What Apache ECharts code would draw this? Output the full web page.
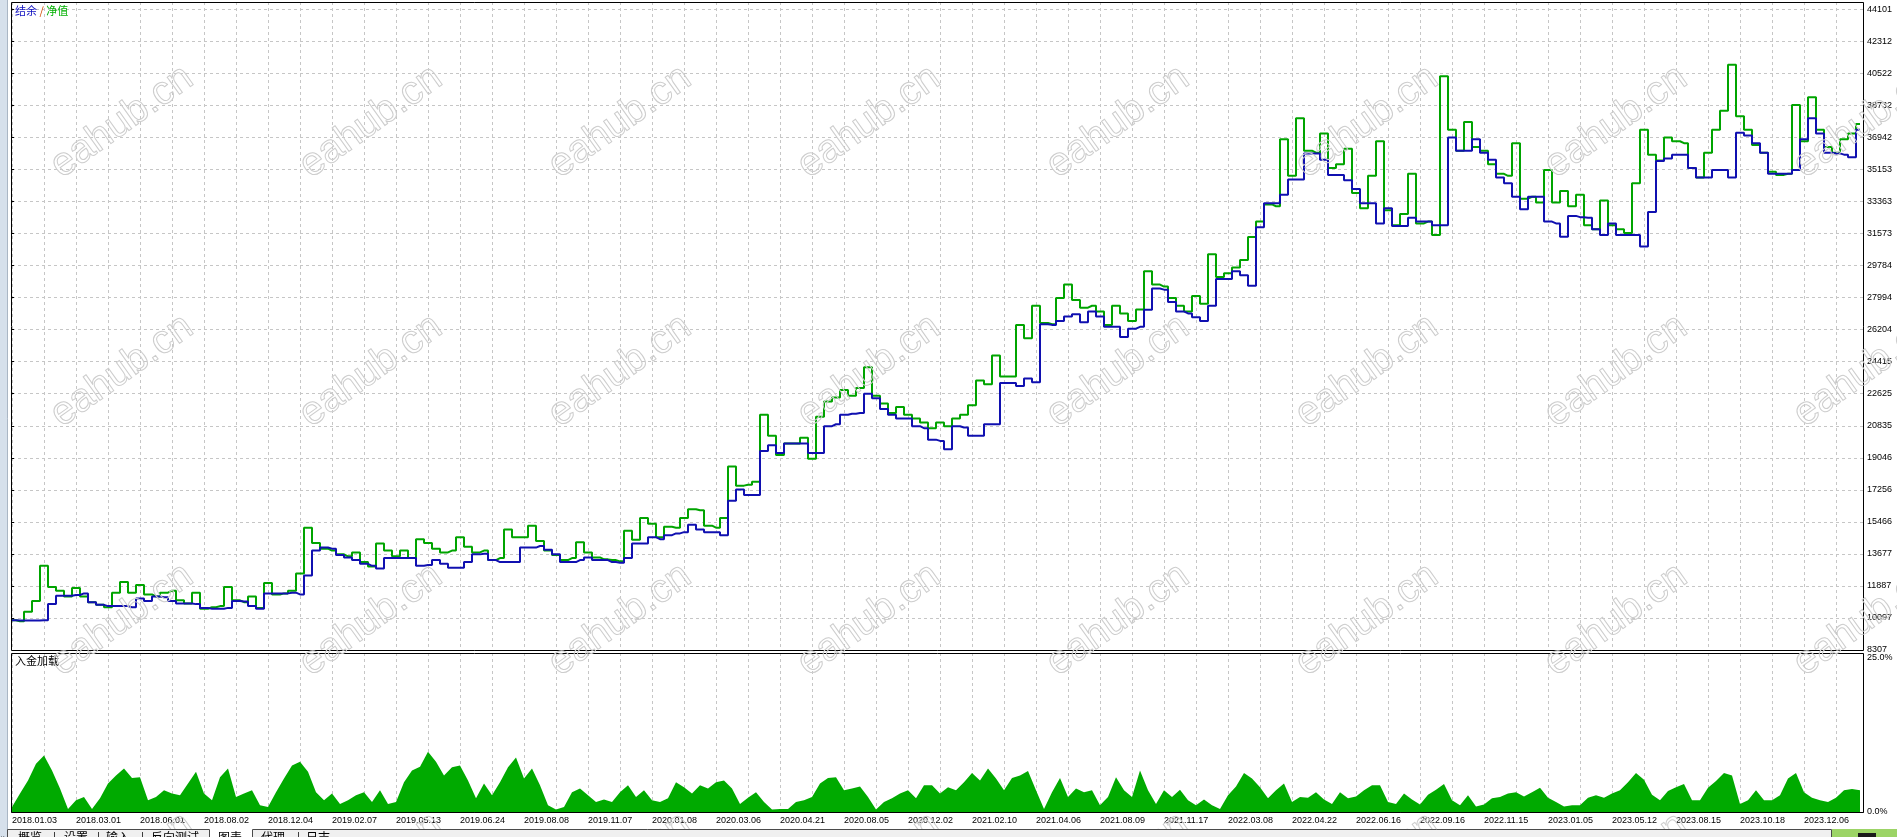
<!DOCTYPE html>
<html><head><meta charset="utf-8">
<script src="https://cdn.jsdelivr.net/npm/echarts@6/dist/echarts.min.js"></script>
<style>html,body{margin:0;padding:0;background:#fff;}#c{width:1897px;height:837px;}</style>
</head><body><div id="c"></div>
<script>
// ---- data ----
const DEALS_PER_SAMPLE = 4;
const dateLabels = ['2018.01.03','2018.03.01','2018.06.01','2018.08.02','2018.12.04','2019.02.07','2019.05.13','2019.06.24','2019.08.08','2019.11.07','2020.01.08','2020.03.06','2020.04.21','2020.08.05','2020.12.02','2021.02.10','2021.04.06','2021.08.09','2021.11.17','2022.03.08','2022.04.22','2022.06.16','2022.09.16','2022.11.15','2023.01.05','2023.05.12','2023.08.15','2023.10.18','2023.12.06'];
const yLabels = ['8307','10097','11887','13677','15466','17256','19046','20835','22625','24415','26204','27994','29784','31573','33363','35153','36942','38732','40522','42312','44101'];
const loadLabels = ['0.0%','25.0%'];
const balance = [
9970,9950,9950,9950,9970, 10870,11340,11340,11380,11470,
10980,10830,10760,10760,10760, 10700,11190,11040,11300,11260,
11040,10910,10910,10870,10660, 10610,10610,10660,11040,11020,
10760,10610,11470,11470,11470, 11510,11410,12470,13860,14030,
13970,13610,13480,13330,13120, 13010,12860,13440,13440,13440,
13440,13010,13050,13330,13120, 12900,12900,13220,13650,13690,
13330,13220,13220,13220,14030, 14030,14120,13910,13650,13220,
13220,13330,13480,13330,13330, 13220,13180,13440,14250,14250,
14610,14500,14720,14820,14890, 15310,15040,14890,14890,14720,
16640,17280,16960,16960,19420, 19740,19310,19850,19850,19850,
19310,19310,20810,20920,21450, 21510,21550,22620,22370,21770,
21450,21240,21240,20810,20700, 20060,19990,19520,20810,20740,
20270,20270,20920,20920,23220, 23220,23050,23480,23260,26510,
26470,26690,26940,27070,26620, 27220,26940,26360,26360,25790,
26260,26360,27320,28500,28440, 27750,27220,27110,26900,26690,
27540,29040,29040,29460,29250, 28650,31920,33270,33270,33740,
34590,34590,36050,36050,35700, 34850,34850,34550,34060,33270,
33270,32140,32990,31990,31990, 32460,32240,32240,32030,32030,
36940,36200,36200,36840,36090, 35700,34700,34380,33630,32930,
33630,33630,32240,32140,31390, 32560,32490,32460,31810,31490,
32140,31490,31490,31490,30850, 32780,35620,35770,35980,35980,
35230,34700,34700,35130,35130, 34700,37200,37050,36620,36090,
34910,34910,34910,35130,36840, 38010,37160,36090,36050,35980,
35830,37370];
const equity = [
9970,9910,10440,11040,13010, 11830,11620,11300,11770,11300,
10980,10830,10700,11510,12110, 11510,11940,11410,11300,11510,
11620,11080,10910,11510,10610, 10700,10760,11830,11080,10980,
11300,10660,12050,11410,11470, 11620,12580,15140,14290,13970,
13860,13650,13540,13760,13220, 12970,14250,13860,13540,13860,
13440,14500,14290,13970,13760, 13860,14610,14080,13760,13860,
13330,13440,15040,14610,14610, 15250,14400,13860,13610,13330,
13440,14330,13760,13480,13370, 13330,13260,14970,14460,15680,
15360,14610,15190,15140,15680, 16170,16110,15250,15140,15680,
18560,17490,17540,17710,21450, 20270,19200,19850,19850,20170,
18990,21340,22190,22410,22830, 22510,22940,24110,22510,22080,
21550,21880,21450,21240,21020, 20700,21020,20810,21240,21450,
21980,23370,23160,24760,23580, 23580,26470,25720,27540,26580,
26510,27970,28720,27860,27430, 27540,27220,26470,27540,27110,
26690,27330,29460,28720,28610, 27970,27540,27220,28080,27650,
30420,29140,29350,29680,30100, 31380,32240,33200,33100,36840,
34800,38010,36200,36090,37160, 35230,35440,36310,33840,32990,
34800,36730,32880,32030,32670, 34910,32140,32240,31490,40360,
37370,36200,37800,36410,36200, 35440,34910,34800,36620,33520,
33630,33310,35130,33310,33950, 33100,33740,32030,31810,33420,
32030,31810,31600,34380,37370, 35980,35660,36940,36730,36620,
35230,34700,36090,37370,38440, 41000,38120,37370,36520,36090,
35020,34850,34910,38760,36730, 39190,37370,36410,36090,36840,
37160,37690];
const depositLoad = [
0.8,3.0,5.1,7.8,9.1,6.7,3.8,0.5,1.9,2.4,
0.5,2.2,4.6,5.9,7.0,5.5,5.6,1.9,2.4,3.5,
3.0,2.7,4.6,6.5,3.0,1.9,5.6,7.0,2.4,3.0,
3.5,1.1,0.8,3.2,5.4,7.5,8.1,6.5,3.2,1.9,
3.0,1.3,1.9,2.7,3.2,1.6,3.5,1.3,1.6,4.8,
6.7,7.3,9.7,8.1,5.9,7.2,7.5,5.1,2.2,4.6,
2.7,4.8,7.2,8.8,5.4,7.0,4.3,1.1,0.4,0.8,
3.2,3.8,2.7,1.6,2.0,1.6,3.2,4.3,2.4,3.5,
1.9,1.6,2.2,4.8,4.0,3.0,4.3,3.8,4.8,5.1,
3.8,1.3,2.3,3.2,1.6,0.4,0.5,0.5,1.6,1.9,
2.4,4.6,5.5,5.6,3.5,3.8,4.1,2.4,0.4,1.6,
2.2,3.0,3.5,2.2,4.3,4.3,3.0,4.0,
3.5,4.8,6.3,5.1,7.0,5.4,3.5,5.5,5.9,6.6,
3.5,0.5,3.2,5.5,2.4,3.8,3.2,3.5,1.1,2.4,
5.6,3.5,2.4,6.7,3.5,1.3,3.5,2.4,3.6,1.9,
1.1,2.0,1.1,0.5,2.7,4.1,6.3,5.4,4.0,2.2,
3.5,4.6,1.6,2.4,2.3,3.2,2.0,1.3,3.2,2.2,
2.5,3.5,4.3,4.3,1.6,1.3,3.0,2.0,1.2,2.8,
3.6,4.5,1.9,1.1,2.7,0.9,1.2,2.2,2.4,3.0,
3.2,2.5,3.2,3.9,2.3,1.6,0.9,1.1,1.1,2.3,
2.7,2.3,3.0,3.5,4.8,6.3,5.2,2.8,1.9,3.4,
4.0,4.5,1.9,1.9,3.9,5.0,6.3,5.9,1.3,1.9,
3.5,1.9,1.9,2.7,5.4,6.3,3.2,2.3,1.9,1.6,
2.3,3.5,3.7,3.5];

// ---- chart ----
const Y_MIN = 8307, Y_STEP = 1789.7;
const toXY = arr => arr.map((v, i) => [i * DEALS_PER_SAMPLE, v]);
const gridDash = { color: '#c6c6c6', type: [3, 3], width: 1 };
const labelFont = 'Liberation Sans';

const graphics = [];
// left window strip
graphics.push({ type: 'rect', shape: { x: 0, y: 0, width: 8, height: 837 }, style: { fill: '#d6e0eb' }, z: 50 });
graphics.push({ type: 'line', shape: { x1: 7.5, y1: 0, x2: 7.5, y2: 837 }, style: { stroke: '#aab6c4', lineWidth: 1 }, z: 51 });
graphics.push({ type: 'text', x: 2, y: 836, rotation: Math.PI / 2, style: { text: '策略测试器', font: '11px "Noto Sans CJK SC"', fill: '#000', align: 'right', verticalAlign: 'middle' }, z: 52 });
// frames
graphics.push({ type: 'rect', shape: { x: 11.5, y: 2.5, width: 1852, height: 648 }, style: { fill: null, stroke: '#000', lineWidth: 1 }, z: 40 });
graphics.push({ type: 'rect', shape: { x: 11.5, y: 653.5, width: 1852, height: 159 }, style: { fill: null, stroke: '#000', lineWidth: 1 }, z: 40 });
// titles
graphics.push({ type: 'text', x: 15, y: 5, style: { text: '{b|结余} {r|/} {g|净值}', font: '11px "Noto Sans CJK SC"', verticalAlign: 'top', rich: { b: { fill: '#1010c0', font: '11px "Noto Sans CJK SC"' }, r: { fill: '#d24a00', font: '11px "Noto Sans CJK SC"' }, g: { fill: '#00b000', font: '11px "Noto Sans CJK SC"' } } }, z: 45 });
graphics.push({ type: 'text', x: 15, y: 655, style: { text: '入金加载', font: '11px "Noto Sans CJK SC"', fill: '#000', verticalAlign: 'top' }, z: 45 });
// watermarks
for (let r = 0; r < 4; r++) {
  for (let c = -1; c < 8; c++) {
    graphics.push({ type: 'text', x: 122 + 249 * c, y: 122 + 249 * r, rotation: 0.62,
      style: { text: 'eahub.cn', font: '40px "Liberation Sans"', fill: 'rgba(255,255,255,0)', stroke: '#cdcdcd', lineWidth: 1, align: 'center', verticalAlign: 'middle' }, z: 60, silent: true });
  }
}
// tab strip
graphics.push({ type: 'rect', shape: { x: 7.5, y: 829.5, width: 202, height: 12 }, style: { fill: '#f0f0f0', stroke: '#4a4a4a', lineWidth: 1 }, z: 70 });
graphics.push({ type: 'rect', shape: { x: 252.5, y: 829.5, width: 1579, height: 12 }, style: { fill: '#f0f0f0', stroke: '#4a4a4a', lineWidth: 1 }, z: 70 });
graphics.push({ type: 'rect', shape: { x: 1832, y: 829, width: 65, height: 10 }, style: { fill: '#9cd466' }, z: 71 });
graphics.push({ type: 'rect', shape: { x: 1858, y: 833, width: 18, height: 6 }, style: { fill: '#1a1a1a' }, z: 72 });
const tabs = [['概览', 18], ['|', 53], ['设置', 64], ['|', 97], ['输入', 106], ['|', 141], ['反向测试', 151], ['图表', 218], ['代理', 261], ['|', 297], ['日志', 306]];
tabs.forEach(([t, x]) => graphics.push({ type: 'text', x: x, y: 831, style: { text: t, font: '12px "Noto Sans CJK SC"', fill: '#000', verticalAlign: 'top' }, z: 73 }));

const chart = echarts.init(document.getElementById('c'), null, { renderer: 'canvas' });
chart.setOption({
  animation: false,
  backgroundColor: '#fff',
  grid: [
    { left: 12, top: 2, right: 34, height: 648 },
    { left: 12, top: 653, right: 34, height: 159 }
  ],
  xAxis: [
    { gridIndex: 0, type: 'value', min: 0, max: 925.5, interval: 16,
      axisLine: { show: false }, axisTick: { show: false }, axisLabel: { show: false },
      splitLine: { show: true, lineStyle: gridDash } },
    { gridIndex: 1, type: 'value', min: 0, max: 925.5, interval: 16,
      axisLine: { show: true, onZero: false, lineStyle: { color: '#000', width: 1 } }, axisTick: { show: false },
      axisLabel: { show: true, align: 'left', margin: 4, fontSize: 9, color: '#000', fontFamily: labelFont, showMaxLabel: false,
        formatter: v => { const k = v / 32; return (Number.isInteger(k) && k < dateLabels.length) ? dateLabels[k] : ''; } },
      splitLine: { show: true, lineStyle: gridDash } }
  ],
  yAxis: [
    { gridIndex: 0, type: 'value', position: 'right', min: Y_MIN, max: 44509, interval: Y_STEP,
      axisLine: { show: false }, axisTick: { show: true, length: 2, lineStyle: { color: '#000' } },
      axisLabel: { margin: 4, fontSize: 9, color: '#000', fontFamily: labelFont, showMaxLabel: false,
        formatter: v => { const k = Math.round((v - Y_MIN) / Y_STEP); return (Math.abs(v - (Y_MIN + k * Y_STEP)) < 1 && k < yLabels.length) ? yLabels[k] : ''; } },
      splitLine: { show: true, lineStyle: gridDash } },
    { gridIndex: 1, type: 'value', position: 'right', min: 0, max: 25.65, interval: 25,
      axisLine: { show: false }, axisTick: { show: false },
      axisLabel: { margin: 4, fontSize: 9, color: '#000', fontFamily: labelFont, showMaxLabel: false,
        formatter: v => v === 0 ? loadLabels[0] : (v === 25 ? loadLabels[1] : '') },
      splitLine: { show: false } }
  ],
  series: [
    { name: '净值', type: 'line', xAxisIndex: 0, yAxisIndex: 0, data: toXY(equity), showSymbol: false, step: 'middle',
      lineStyle: { color: '#00a400', width: 2 }, z: 2 },
    { name: '结余', type: 'line', xAxisIndex: 0, yAxisIndex: 0, data: toXY(balance), showSymbol: false, step: 'middle',
      lineStyle: { color: '#1010b0', width: 2 }, z: 3 },
    { name: '入金加载', type: 'line', xAxisIndex: 1, yAxisIndex: 1, data: toXY(depositLoad), showSymbol: false,
      lineStyle: { width: 0 }, areaStyle: { color: '#00aa00', opacity: 1 }, z: 2 }
  ],
  graphic: graphics
});
</script>
</body></html>
